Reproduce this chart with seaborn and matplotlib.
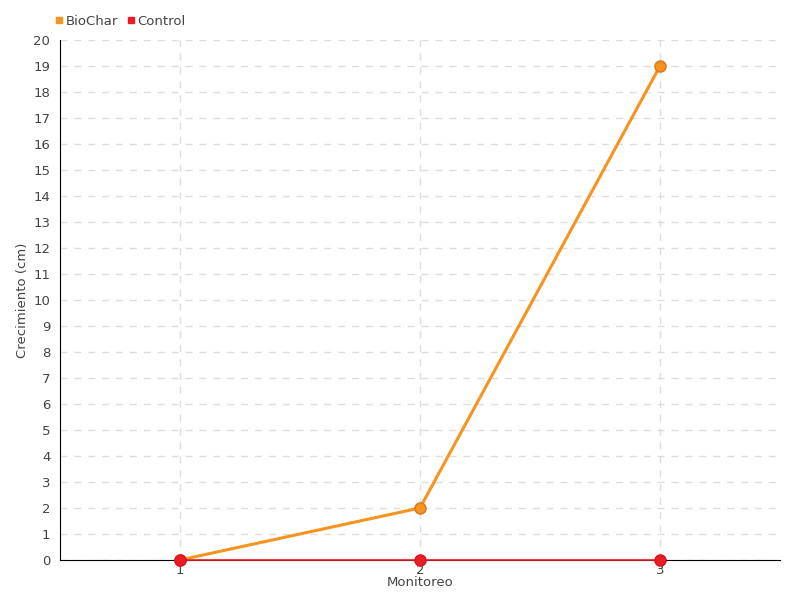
import numpy as np
import pandas as pd
import seaborn as sns
import matplotlib.pyplot as plt
from matplotlib.lines import Line2D

monitoreo = [1, 2, 3]
biochar = [0, 2, 19]
control = [0, 0, 0]

df = pd.DataFrame({
    "Monitoreo": monitoreo * 2,
    "Crecimiento": biochar + control,
    "Grupo": ["BioChar"] * 3 + ["Control"] * 3,
})

sns.set_style("white")
plt.rcParams['font.family'] = ['DejaVu Sans']

colores = {"BioChar": "#f7931e", "Control": "#ed1c24"}
bordes = {"BioChar": "#d9761a", "Control": "#d4141c"}

fig = plt.figure(figsize=(8, 6), dpi=100)
ax = fig.add_axes([0.075, 0.0667, 0.9, 0.8667])

for g, lw, z in [("BioChar", 2.2, 4), ("Control", 1.2, 5)]:
    sub = df[df["Grupo"] == g]
    sns.lineplot(data=sub, x="Monitoreo", y="Crecimiento", ax=ax,
                 color=colores[g], linewidth=lw, marker="o", markersize=8,
                 markeredgecolor=bordes[g], markeredgewidth=1, zorder=z,
                 legend=False, clip_on=False)

ax.set_xlim(0.5, 3.5)
ax.set_ylim(0, 20)
ax.set_xticks(monitoreo)
ax.set_yticks(range(0, 21))
ax.grid(True, color="#dddddd", linestyle=(0, (5, 5)), linewidth=1)
ax.set_axisbelow(True)

for s in ["top", "right"]:
    ax.spines[s].set_visible(False)
ax.spines["left"].set_color("black")
ax.spines["bottom"].set_color("black")
ax.tick_params(axis="y", direction="out", length=5, color="black",
               labelsize=9.5, labelcolor="#444444", pad=2)
ax.tick_params(axis="x", direction="out", length=8, color="#444444",
               labelsize=9.5, labelcolor="#444444", pad=-5)

ax.set_xlabel("Monitoreo", fontsize=9.5, color="#444444", labelpad=-1)
ax.set_ylabel("Crecimiento (cm)", fontsize=9.5, color="#444444", labelpad=3)

handles = [Line2D([], [], marker="s", linestyle="", color=colores[g],
                  markersize=5, label=g) for g in ["BioChar", "Control"]]
fig.legend(handles=handles, loc="upper left", bbox_to_anchor=(0.052, 0.995),
           ncol=2, frameon=False, fontsize=9.5, handletextpad=0.1,
           columnspacing=0.6, handlelength=0.8, labelcolor="#444444")

fig.savefig("out.png", dpi=100)
